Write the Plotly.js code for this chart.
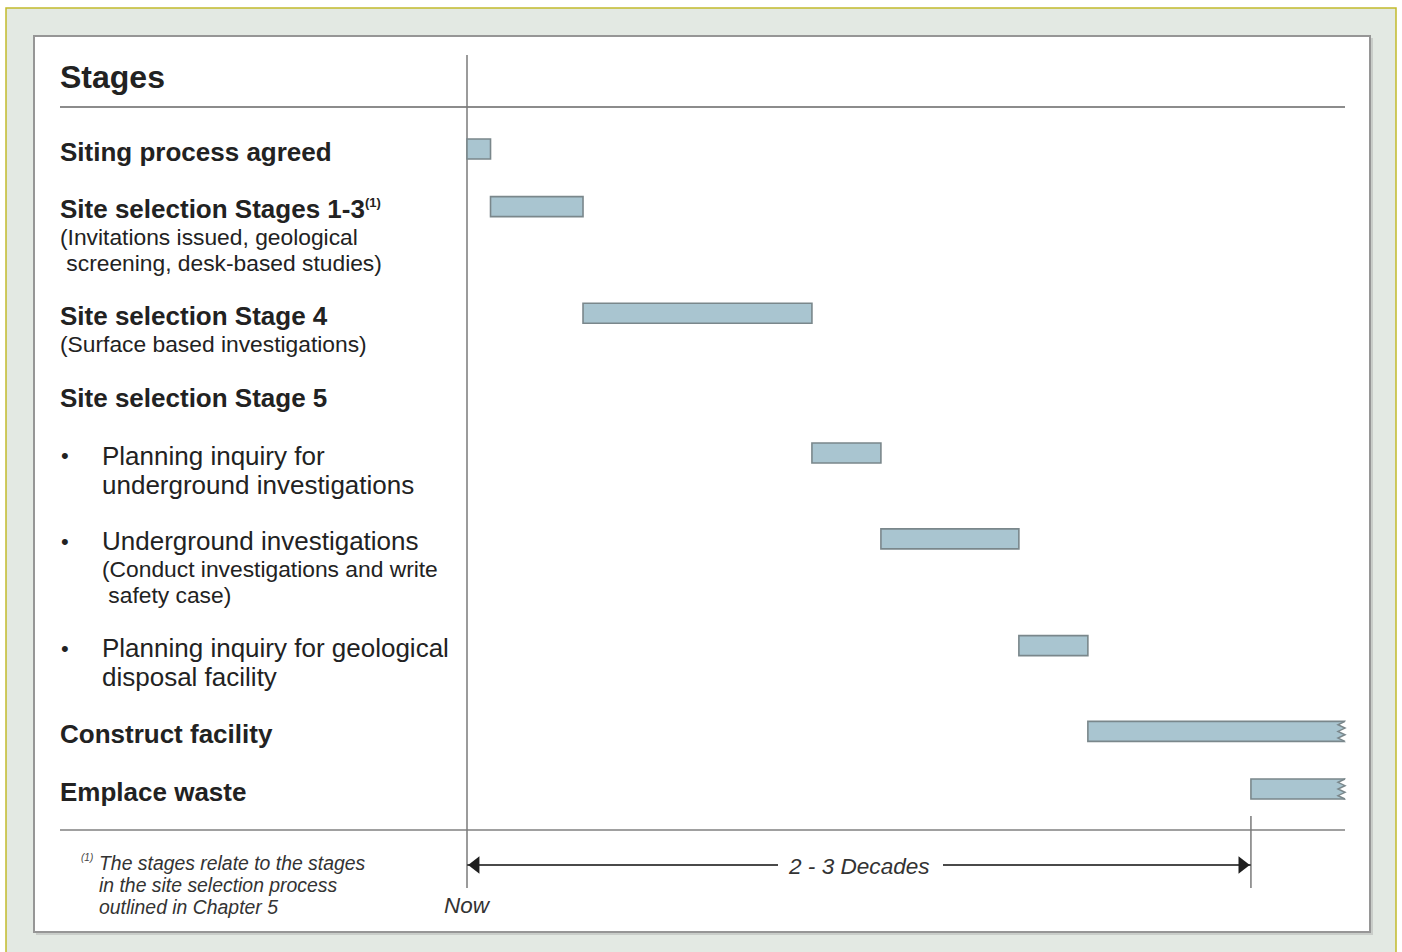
<!DOCTYPE html>
<html>
<head>
<meta charset="utf-8">
<script src="https://cdn.plot.ly/plotly-3.0.1.min.js"></script>
<style>html,body{margin:0;padding:0;background:#fff;}#chart{width:1402px;height:952px;}</style>
</head>
<body>
<div id="chart"></div>
<script>
// ---------------- data ----------------
const headerLabel = "Stages";
const stageTitle = [
  ["Siting process agreed"],
  ["Site selection Stages 1-3<sup>(1)</sup>"],
  ["Site selection Stage 4"],
  ["Site selection Stage 5"],
  ["Planning inquiry for", "underground investigations"],
  ["Underground investigations"],
  ["Planning inquiry for geological", "disposal facility"],
  ["Construct facility"],
  ["Emplace waste"]
];
const stageNote = [
  [],
  ["(Invitations issued, geological", " screening, desk-based studies)"],
  ["(Surface based investigations)"],
  [],
  [],
  ["(Conduct investigations and write", " safety case)"],
  [],
  [],
  []
];
const subStep   = [false, false, false, false, true, true, true, false, false];
const startTime = [0,    0.75, 3.7, null, 11,   13.2, 17.6, 19.8, 25];
const endTime   = [0.75, 3.7,  11,  null, 13.2, 17.6, 19.8, 28,   28];
const continuing = [false, false, false, false, false, false, false, true, true];
const spanLabel = "2 - 3 Decades";
const spanStart = 0;
const spanEnd = 25;
const nowLabel = "Now";
const footnoteMark = "(1)";
const footnote = ["The stages relate to the stages", "in the site selection process", "outlined in Chapter 5"];

// ---------------- layout helpers ----------------
const W = 1402, H = 952;
const fx = p => p / W;
const fy = p => 1 - p / H;
const FONT = "Liberation Sans, Arial, Helvetica, sans-serif";
const TXT = "#222222";
const GREY = "#8c8c8c";

// x mapping: time 0 at 467px, time 28 at 1345px
const xMax = 28;
const u = (1345 - 467) / xMax;
const xPad = 0.5;
const xDomain = [fx(467 - xPad * u), fx(1345 + xPad * u)];

// row positions derived from the text lines of each stage label
const rowPos = [];
let acc = 0;
stageTitle.forEach((t, i) => { rowPos.push(acc); acc += t.length * 1 + stageNote[i].length * 0.87 + 1.04; });
const lastPos = rowPos[rowPos.length - 1];
const s = (789 - 149) / lastPos;          // px per row unit
const yTopPx = 107, yBotPx = 830;
const yRange = [(yBotPx - 149) / s, (yTopPx - 149) / s];
const yDomain = [fy(yBotPx), fy(yTopPx)];
const barW = 20 / s;

// ---------------- bars ----------------
const barY = [], barX = [], barBase = [];
startTime.forEach((st, i) => {
  if (st === null) return;
  barY.push(rowPos[i]);
  barBase.push(st);
  barX.push(endTime[i] - st);
});
const bars = {
  type: "bar", orientation: "h",
  y: barY, x: barX, base: barBase, width: barW,
  marker: { color: "#a9c5d0", line: { color: "#7a878b", width: 1.6 } },
  hoverinfo: "skip", showlegend: false
};

// ---------------- span arrow (on a footer axis) ----------------
const gapL = (778 - 467) / u, gapR = (943 - 467) / u;
const headSize = 15;
const headOff = (headSize / 2) * 2 / Math.sqrt(3) / u;
const spanLine = {
  type: "scatter", mode: "lines", xaxis: "x", yaxis: "y2",
  x: [spanStart, gapL, null, gapR, spanEnd], y: [0, 0, null, 0, 0],
  line: { color: "#4a4a4a", width: 2 }, hoverinfo: "skip", showlegend: false, cliponaxis: false
};
const spanHeads = {
  type: "scatter", mode: "markers", xaxis: "x", yaxis: "y2",
  x: [spanStart + headOff, spanEnd - headOff], y: [0, 0],
  marker: { symbol: ["triangle-left", "triangle-right"], size: headSize, color: "#1e1e1e", line: { width: 0 } },
  hoverinfo: "skip", showlegend: false, cliponaxis: false
};

// ---------------- shapes ----------------
const shapes = [
  { type: "rect", xref: "paper", yref: "paper", x0: fx(6), x1: fx(1396), y0: fy(8), y1: fy(990),
    fillcolor: "#e3e9e3", line: { color: "#c2ba2c", width: 1.5 }, layer: "below" },
  { type: "rect", xref: "paper", yref: "paper", x0: fx(36), x1: fx(1373), y0: fy(38), y1: fy(935),
    fillcolor: "#c9cdc9", line: { width: 0 }, layer: "below" },
  { type: "rect", xref: "paper", yref: "paper", x0: fx(34), x1: fx(1370), y0: fy(36), y1: fy(932),
    fillcolor: "#ffffff", line: { color: "#969696", width: 2 }, layer: "below" },
  { type: "line", xref: "paper", yref: "paper", x0: fx(60), x1: fx(1345), y0: fy(107), y1: fy(107),
    line: { color: GREY, width: 2 }, layer: "below" },
  { type: "line", xref: "paper", yref: "paper", x0: fx(60), x1: fx(1345), y0: fy(830), y1: fy(830),
    line: { color: "#a0a0a0", width: 2 }, layer: "below" },
  { type: "line", xref: "x", yref: "paper", x0: spanStart, x1: spanStart, y0: fy(55), y1: fy(888),
    line: { color: "#7a7a7a", width: 1.5 }, layer: "below" },
  { type: "line", xref: "x", yref: "paper", x0: spanEnd, x1: spanEnd, y0: fy(816), y1: fy(888),
    line: { color: "#7a7a7a", width: 1.5 }, layer: "below" }
];

// torn (continuing) ends
continuing.forEach((c, i) => {
  if (!c) return;
  const xe = endTime[i];
  const top = rowPos[i] - barW / 2, bot = rowPos[i] + barW / 2, h = bot - top;
  const a = 7 / u, e = 3 / u;
  const pts = [];
  for (let k = 0; k <= 6; k++) pts.push([k % 2 ? xe - a : xe, top + k * h / 6]);
  const zig = pts.map((p, k) => (k ? "L" : "M") + p[0] + "," + p[1]).join(" ");
  shapes.push({ type: "path", xref: "x", yref: "y",
    path: zig + " L" + (xe + e) + "," + (bot + 0.05) + " L" + (xe + e) + "," + (top - 0.05) + " Z",
    fillcolor: "#ffffff", line: { width: 0 } });
  shapes.push({ type: "path", xref: "x", yref: "y", path: zig,
    fillcolor: "rgba(0,0,0,0)", line: { color: "#7a878b", width: 1.5 } });
});

// ---------------- annotations ----------------
const ann = [];
ann.push({ xref: "paper", yref: "paper", x: fx(58), y: fy(77), xanchor: "left", yanchor: "middle",
  text: headerLabel, showarrow: false, font: { family: FONT, size: 32, color: TXT, weight: 700 } });

const nb = t => t.replace(/^ +/, m => "&nbsp;".repeat(m.length));
const TITLE_PX = 26, NOTE_PX = 22.8;
stageTitle.forEach((lines, i) => {
  const notes = stageNote[i];
  const sub = subStep[i];
  // line pitch for this label block: 29px between title lines, 26.7px when notes follow
  const pitch = notes.length ? 26.5 : 29;
  const base = lines.length + notes.length > 1 ? pitch / 1.3 : TITLE_PX;
  const tl = lines.map(t => {
    const tt = t.replace("<sup>(1)</sup>", "<sup><span style=\"font-size:13px\">(1)</span></sup>");
    return "<span style=\"font-size:" + TITLE_PX + "px\">" + (sub ? tt : "<b>" + tt + "</b>") + "</span>";
  });
  const nl = notes.map(t => "<span style=\"font-size:" + NOTE_PX + "px\">" + nb(t) + "</span>");
  const xT = sub ? 100 : 58;
  ann.push({ xref: "paper", yref: "y", x: fx(xT), y: rowPos[i], yshift: 14.5, xanchor: "left", yanchor: "top",
    align: "left", text: tl.concat(nl).join("<br>"), showarrow: false,
    font: { family: FONT, size: base, color: TXT } });
  if (sub) {
    ann.push({ xref: "paper", yref: "y", x: fx(59), y: rowPos[i], yshift: -2.5, xanchor: "left", yanchor: "middle",
      text: "•", showarrow: false, font: { family: FONT, size: 22, color: TXT } });
  }
});

ann.push({ xref: "x", yref: "paper", x: (spanStart + spanEnd) / 2, y: fy(866), xanchor: "center", yanchor: "middle",
  text: "<i>" + spanLabel + "</i>", showarrow: false, font: { family: FONT, size: 22.6, color: "#333" } });
ann.push({ xref: "x", yref: "paper", x: spanStart, y: fy(905), xanchor: "center", yanchor: "middle",
  text: "<i>" + nowLabel + "</i>", showarrow: false, font: { family: FONT, size: 22.5, color: "#333" } });

ann.push({ xref: "paper", yref: "paper", x: fx(79), y: fy(857), xanchor: "left", yanchor: "middle",
  text: "<i>" + footnoteMark + "</i>", showarrow: false, font: { family: FONT, size: 10, color: "#444" } });
ann.push({ xref: "paper", yref: "paper", x: fx(97), y: fy(850), xanchor: "left", yanchor: "top", align: "left",
  text: footnote.map(t => "<span style=\"font-size:19.4px\"><i>" + t + "</i></span>").join("<br>"), showarrow: false,
  font: { family: FONT, size: 17, color: "#333" } });

const layout = {
  width: W, height: H,
  margin: { l: 0, r: 0, t: 0, b: 0, pad: 0 },
  paper_bgcolor: "#ffffff", plot_bgcolor: "rgba(0,0,0,0)",
  xaxis: { domain: xDomain, range: [-xPad, xMax + xPad], visible: false, fixedrange: true },
  yaxis: { domain: yDomain, range: yRange, visible: false, fixedrange: true },
  yaxis2: { domain: [fy(885), fy(845)], range: [-1, 1], visible: false, fixedrange: true, anchor: "x" },
  shapes: shapes, annotations: ann, bargap: 0, showlegend: false,
  font: { family: FONT }
};
Plotly.newPlot("chart", [bars, spanLine, spanHeads], layout, { displayModeBar: false, staticPlot: true });
</script>
</body>
</html>
